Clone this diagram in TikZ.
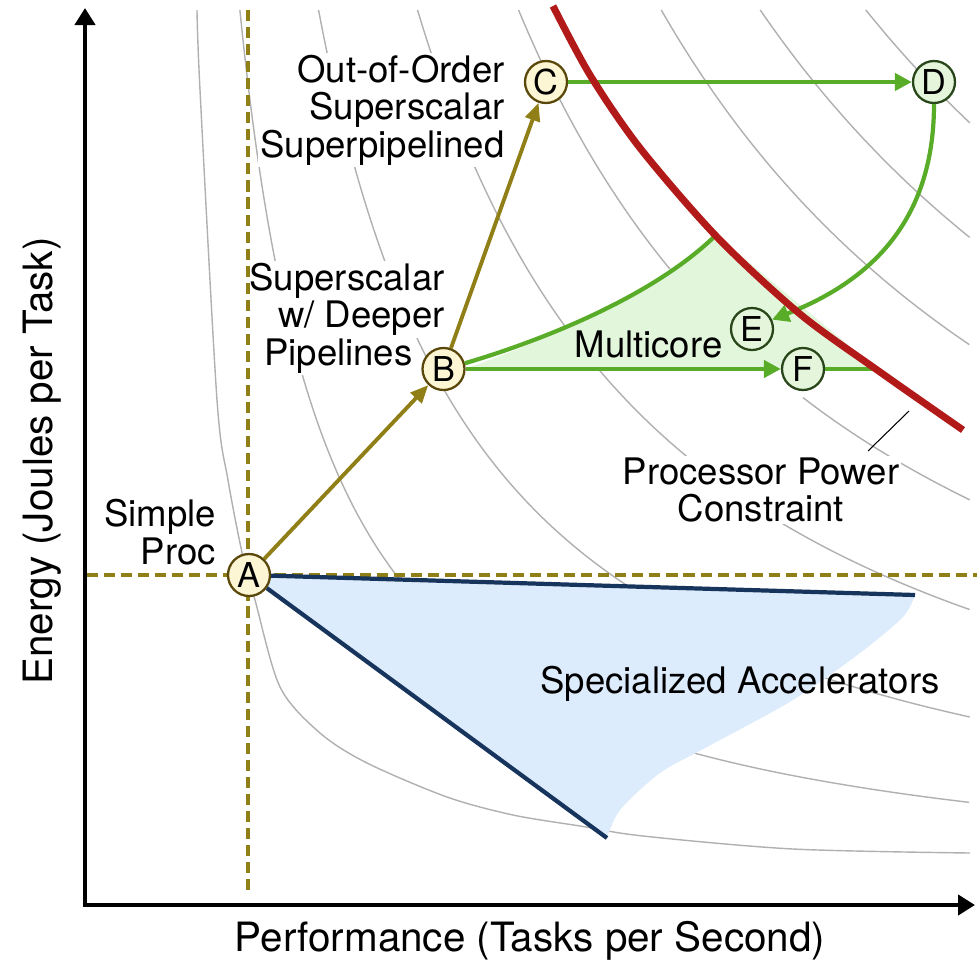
\documentclass[tikz,border=0pt]{standalone}
\usepackage{fontspec}
\setmainfont{TeX Gyre Heros}
\usetikzlibrary{arrows.meta}

\definecolor{curvegray}{RGB}{176,176,176}
\definecolor{olivec}{RGB}{143,127,22}
\definecolor{mcgreen}{RGB}{88,172,40}
\definecolor{mcfill}{RGB}{226,246,219}
\definecolor{accfill}{RGB}{221,236,252}
\definecolor{accnavy}{RGB}{23,52,92}
\definecolor{powred}{RGB}{178,26,26}
\definecolor{procfill}{RGB}{252,246,212}
\definecolor{procline}{RGB}{90,72,10}
\definecolor{corefill}{RGB}{228,245,220}
\definecolor{coreline}{RGB}{40,70,25}

\tikzset{
  isopower/.style={draw=curvegray, line width=0.8pt},
  txt/.style={font=\fontsize{20.8}{21.3}\selectfont, inner sep=1pt},
  txtw/.style={txt, fill=white, inner sep=1.2pt},
  axislabel/.style={font=\fontsize{23}{27}\selectfont, inner sep=0pt},
  stage/.style={circle, draw=procline, fill=procfill, line width=1.3pt,
    minimum size=0.84cm, inner sep=0pt, font=\fontsize{19.5}{20}\selectfont},
  corestage/.style={stage, draw=coreline, fill=corefill},
  olivearrow/.style={draw=olivec, line width=2.2pt, -{Triangle[length=0.36cm,width=0.3cm]}},
  greenarrow/.style={draw=mcgreen, line width=2.4pt, -{Triangle[length=0.34cm,width=0.34cm]}},
  greenline/.style={draw=mcgreen, line width=2.4pt},
  guide/.style={draw=olivec, line width=2.2pt, dash pattern=on 6.3pt off 3.4pt},
  accedge/.style={draw=accnavy, line width=2.4pt},
  axisline/.style={line width=2.6pt,
    {Triangle[length=0.34cm,width=0.4cm]}-{Triangle[length=0.34cm,width=0.4cm]}},
}

\begin{document}
\begin{tikzpicture}[x=0.02cm, y=-0.02cm]
\useasboundingbox (0,0) rectangle (977,961);

% fixed points
\coordinate (pA) at (249,575);
\coordinate (pB) at (443.5,369);
\coordinate (pC) at (546,82);
\coordinate (pD) at (934,82);
\coordinate (pE) at (752,329);
\coordinate (pF) at (803,369);
\coordinate (origin) at (85,905);
\coordinate (ytip) at (85,8);
\coordinate (xtip) at (975,905);
\coordinate (accTop) at (915,595);
\coordinate (accTip) at (607,838);
\coordinate (mcApex) at (716,235);
\coordinate (mcEnd) at (877,369);
\coordinate (ptrLow) at (868,451);
\coordinate (ptrHigh) at (909,411);

% iso-power curves (hyperbolas about a common centre)
\draw[isopower] plot[smooth] coordinates {(197,10) (200,90) (217,400) (228,480)
  (243,557) (255,600) (280,687) (320,733) (367,763) (447,797) (513,815) (580,826)
  (643,836) (793,849) (970,853)};
\foreach \s in {282.8,387.3,487.9,674.5,736.9,798.1}{
  \pgfmathsetmacro\ta{ln(\s/890)}
  \pgfmathsetmacro\tb{ln(820/\s)}
  \draw[isopower] plot[domain=\ta:\tb, samples=60, smooth, variable=\u]
     ({150+\s*exp(\u)}, {900-\s*exp(-\u)});
}
% the middle curve is broken where it meets the multicore region
\pgfmathsetmacro\ta{ln(572.7/890)}
\pgfmathsetmacro\tm{ln(520/572.7)}
\pgfmathsetmacro\tn{ln(653/572.7)}
\pgfmathsetmacro\tb{ln(820/572.7)}
\draw[isopower] plot[domain=\ta:\tm, samples=40, smooth, variable=\u]
   ({150+572.7*exp(\u)}, {900-572.7*exp(-\u)});
\draw[isopower] plot[domain=\tn:\tb, samples=30, smooth, variable=\u]
   ({150+572.7*exp(\u)}, {900-572.7*exp(-\u)});

% regions
\fill[accfill] (pA) -- (accTop) -- plot[smooth] coordinates {(915,595) (903,617)
  (860,653) (793,700) (707,747) (660,773) (620,810) (607,838)} -- cycle;
\fill[mcfill] (465,369) .. controls (560,335) and (660,290) .. (mcApex) -- (mcEnd) -- cycle;

% labels
\node[txtw, align=right, anchor=east] (ooo) at (507,110)
  {Out-of-Order\\Superscalar\hspace*{-0.2cm}\\Superpipelined};
\node[txtw, anchor=base east] (ss1) at (447,290) {Superscalar};
\node[txtw, anchor=base east] (ss2) at (447,327.5) {w/ Deeper};
\node[txtw, anchor=base east] (ss3) at (415,365) {Pipelines};
\node[txt, align=right, anchor=east] (simple) at (218,532) {Simple\\Proc};
\node[txtw, align=center] (ppc) at (761,490) {Processor Power\\Constraint};
\node[txt, anchor=base] (mc) at (648.5,357) {Multicore};
\node[txt, anchor=base] (acc) at (740,693) {Specialized Accelerators};
\node[axislabel, anchor=base] (xlab) at (530,951) {Performance (Tasks per Second)};
\node[axislabel, anchor=base, rotate=90] (ylab) at (52,461) {Energy (Joules per Task)};

% reference lines through the simple processor
\draw[guide] (248,10) -- (248,893);
\draw[guide] (87,575) -- (977,575);

% axes
\draw[axisline] (ytip) -- (origin) -- (xtip);

% design points
\node[stage] (A) at (pA) {A};
\node[stage] (B) at (pB) {B};
\node[stage] (C) at (pC) {C};
\node[corestage] (D) at (pD) {D};
\node[corestage] (E) at (pE) {E};
\node[corestage] (F) at (pF) {F};

% accelerator bounds
\draw[accedge] (A) -- (accTop);
\draw[accedge] (A) -- (accTip);

% single-core evolution
\draw[olivearrow] (A) -- (B);
\draw[olivearrow] (B) -- (C);

% multicore
\draw[greenline] (B.15) .. controls (560,335) and (660,290) .. (mcApex);
\draw[greenarrow] (C) -- (D);
\draw[greenarrow] (D.south) .. controls (934,230) and (860,285) .. (E.25);
\draw[greenarrow] (B) -- (F);
\draw[greenline] (F) -- (mcEnd);

% power constraint
\draw[powred, line width=4pt] plot[smooth] coordinates {(553,6) (590,75) (640,148)
  (717,237) (800,314) (880,372) (963,430)};
\draw[line width=0.6pt] (ptrLow) -- (ptrHigh);
\end{tikzpicture}
\end{document}
